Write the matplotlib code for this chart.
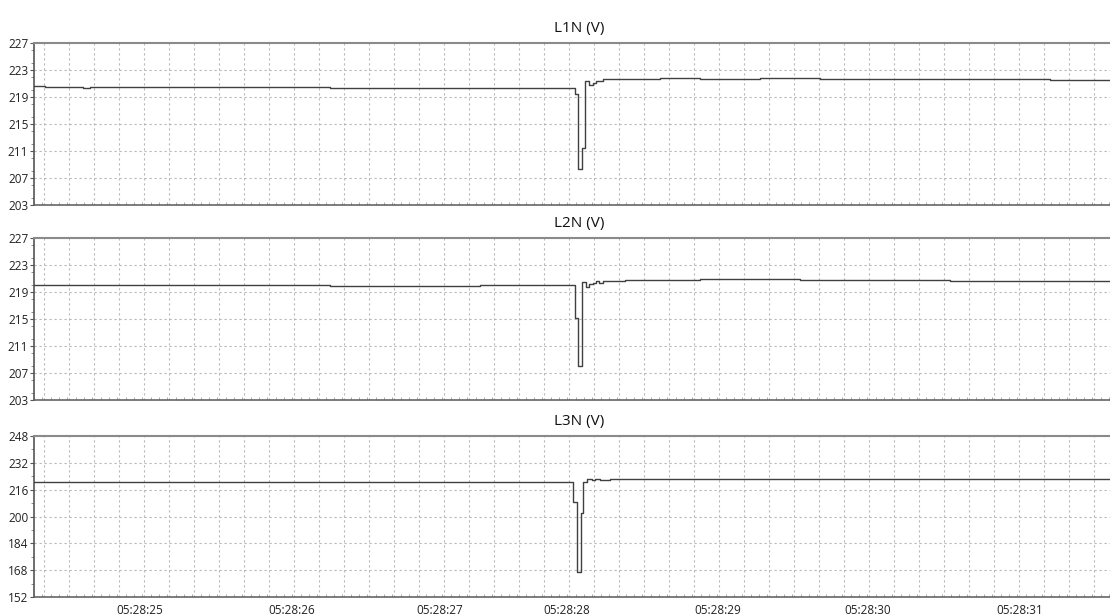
import matplotlib.pyplot as plt
from matplotlib.ticker import MultipleLocator, FixedLocator
import numpy as np

plt.rcParams['font.family'] = ['Open Sans', 'DejaVu Sans']

# time in seconds after 05:28:24, values are step change points
t_end = 7.173

l1_t = [0.0, 0.073, 0.327, 0.373, 0.64, 0.667, 1.973, 2.407, 2.473, 3.607, 3.629, 3.653,
        3.675, 3.702, 3.725, 3.747, 3.773, 3.793, 3.907, 4.173, 4.44, 4.84, 5.24, 5.773,
        6.173, 6.773]
l1_v = [220.6, 220.5, 220.4, 220.5, 220.55, 220.5, 220.4, 220.3, 220.4, 219.4, 208.4, 211.4,
        221.4, 220.8, 221.1, 221.3, 221.4, 221.6, 221.7, 221.8, 221.7, 221.8, 221.7, 221.6,
        221.6, 221.5]

l2_t = [0.0, 0.173, 0.573, 0.64, 1.973, 2.973, 3.607, 3.625, 3.653, 3.68, 3.702, 3.725,
        3.747, 3.767, 3.793, 3.873, 3.94, 4.44, 5.107, 6.107, 6.44]
l2_v = [220.1, 220.0, 220.1, 220.0, 219.9, 220.0, 215.1, 208.1, 220.5, 219.8, 220.2, 220.4,
        220.6, 220.4, 220.7, 220.6, 220.8, 220.9, 220.8, 220.7, 220.6]

l3_t = [0.0, 3.591, 3.618, 3.645, 3.662, 3.689, 3.718, 3.74, 3.773, 3.84]
l3_v = [220.5, 208.5, 167.1, 201.9, 220.8, 222.2, 221.6, 222.2, 222.0, 222.3]

tick_pos = [0.707, 1.72, 2.707, 3.553, 4.56, 5.56, 6.573]
tick_labels = ['05:28:25', '05:28:26', '05:28:27', '05:28:28', '05:28:29', '05:28:30', '05:28:31']

panels = [
    ('L1N (V)', l1_t, l1_v, (203, 227), 4),
    ('L2N (V)', l2_t, l2_v, (203, 227), 4),
    ('L3N (V)', l3_t, l3_v, (152, 248), 16),
]

fig = plt.figure(figsize=(11.1, 6.16), dpi=100)
boxes = [(0.0306, 0.6672, 0.9694, 0.263),
         (0.0306, 0.3506, 0.9694, 0.263),
         (0.0306, 0.0308, 0.9694, 0.2614)]

grid_x = 0.0687 + np.arange(0, 44) / 6

for (title, t, v, ylim, step), box in zip(panels, boxes):
    ax = fig.add_axes(box)
    tt = list(t) + [t_end]
    vv = list(v) + [v[-1]]
    ax.plot(tt, vv, drawstyle='steps-post', color='#404040', lw=1.0, zorder=3)
    ax.set_xlim(0, t_end)
    ax.set_ylim(*ylim)

    # grid: vertical every 1/6 s, horizontal at labelled values
    for gx in grid_x:
        if 0 < gx < t_end:
            ax.axvline(gx, color='#b8b8b8', lw=0.8, ls=(0, (2, 2.5)), zorder=1)
    yt = np.arange(ylim[0], ylim[1] + 1, step)
    for gy in yt[1:-1]:
        ax.axhline(gy, color='#b8b8b8', lw=0.8, ls=(0, (2, 2.5)), zorder=1)

    ax.set_yticks(yt)
    ax.yaxis.set_minor_locator(MultipleLocator(step / 2))
    ax.tick_params(axis='y', which='major', length=3, width=0.8, color='#555555',
                   labelsize=8.5, labelcolor='#222222', pad=1)
    ax.tick_params(axis='y', which='minor', length=2, width=0.6, color='#777777')

    ax.xaxis.set_major_locator(FixedLocator(tick_pos))
    ax.xaxis.set_minor_locator(MultipleLocator(1 / 18))
    ax.tick_params(axis='x', which='major', length=0, labelsize=8.5, labelcolor='#222222', pad=5)
    ax.tick_params(axis='x', which='minor', direction='in', length=2.5, width=0.6, color='#999999')
    if title == 'L3N (V)':
        ax.set_xticklabels(tick_labels)
    else:
        ax.set_xticklabels([])

    ax.spines['right'].set_visible(False)
    ax.spines['top'].set_color('#8a8a8a')
    ax.spines['top'].set_linewidth(1.5)
    ax.spines['bottom'].set_color('#666666')
    ax.spines['bottom'].set_linewidth(1.2)
    ax.spines['left'].set_color('#555555')
    ax.spines['left'].set_linewidth(1.2)

    ax.set_title(title, fontsize=11, x=0.5065, pad=8, color='#111111')

fig.savefig('out.png', dpi=100)
